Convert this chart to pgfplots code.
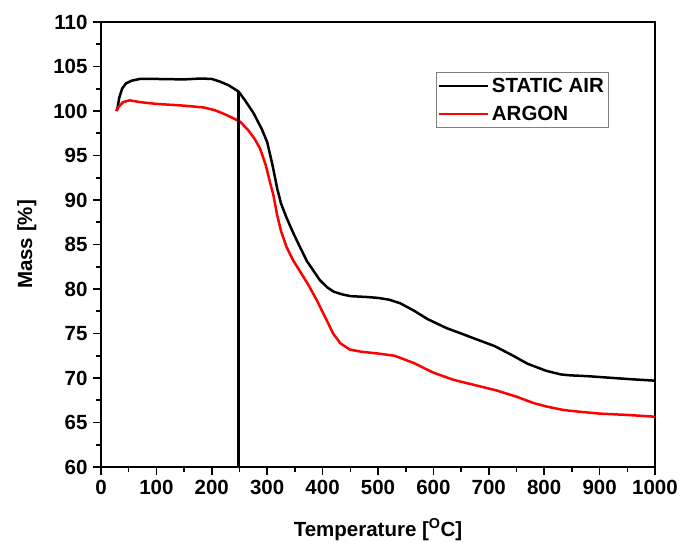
\documentclass[border=0pt]{standalone}
\usepackage{pgfplots}
\pgfplotsset{compat=1.18}
\usepackage{fontspec}
\setmainfont{Liberation Sans}
\begin{document}
\begin{tikzpicture}
\begin{axis}[
  scale only axis,
  width=554pt, height=445pt,
  xmin=0, xmax=1000, ymin=60, ymax=110,
  xtick={0,100,...,1000}, ytick={60,65,...,110},
  minor x tick num=1, minor y tick num=1,
  tick align=outside,
  xtick pos=bottom, ytick pos=left,
  major tick length=8pt, minor tick length=5pt,
  every tick/.style={line width=1.6pt, black},
  axis line style={line width=2.2pt},
  /pgf/number format/assume math mode=true,
  /pgf/number format/1000 sep={},
  ticklabel style={font=\bfseries\fontsize{20.5}{24}\selectfont},
  xticklabel style={yshift=-2pt},
  yticklabel style={xshift=-2pt},
  xlabel={\bfseries Temperature [\textsuperscript{O}C]},
  ylabel={\bfseries Mass [\%]},
  label style={font=\bfseries\fontsize{20.5}{24}\selectfont},
  xlabel style={yshift=-17pt},
  ylabel style={yshift=10pt},
  legend style={at={(0.605,0.888)}, anchor=north west, draw=gray, line width=0.6pt,
    font=\bfseries\fontsize{20.5}{24}\selectfont, row sep=8pt, inner xsep=1pt, inner ysep=4pt,
    nodes={inner xsep=3pt}},
  legend cell align=left,
  legend image code/.code={\draw[line width=2.5pt] (0cm,0cm) -- (1.72cm,0cm);},
]
\coordinate (bl) at (rel axis cs:0,0);
\addplot[black, line width=2.5pt] coordinates {
(28,100.0)(30,100.4)(33,101.5)(38,102.5)(45,103.1)(55,103.4)(70,103.6)(100,103.6)(150,103.55)(180,103.65)(200,103.6)(215,103.3)(230,102.9)(248,102.2)(260,101.2)(275,99.8)(290,98.0)(300,96.5)(310,93.8)(318,91.3)(325,89.6)(335,88.0)(347,86.3)(360,84.6)(372,83.1)(383,82.1)(395,81.0)(408,80.2)(420,79.7)(435,79.4)(450,79.2)(480,79.1)(500,79.0)(520,78.8)(540,78.4)(564,77.6)(590,76.6)(624,75.6)(650,75.0)(684,74.2)(710,73.6)(744,72.5)(770,71.6)(804,70.8)(830,70.4)(847,70.3)(880,70.2)(925,70.0)(960,69.85)(1000,69.7)
};
\addlegendentry{STATIC AIR}
\addplot[red, line width=2.5pt] coordinates {
(28,100.0)(32,100.5)(40,101.0)(52,101.2)(70,101.0)(100,100.8)(150,100.6)(185,100.4)(205,100.1)(221,99.7)(235,99.3)(251,98.8)(265,97.9)(277,96.9)(287,95.8)(297,94.0)(305,92.0)(311,90.6)(318,88.3)(325,86.5)(335,84.7)(347,83.2)(359,82.0)(374,80.5)(389,78.8)(405,76.8)(419,75.0)(432,73.9)(449,73.2)(470,72.95)(500,72.75)(530,72.5)(564,71.7)(600,70.6)(636,69.8)(675,69.2)(714,68.6)(750,67.9)(780,67.2)(804,66.8)(835,66.4)(865,66.2)(900,66.0)(950,65.85)(1000,65.65)
};
\addlegendentry{ARGON}
\addplot[black, line width=2.4pt, forget plot] coordinates {(248,102.2)(248,60)};
\end{axis}
\pgfresetboundingbox
\path (bl) ++(-101pt,-75pt) rectangle ++(680pt,542pt);
\end{tikzpicture}
\end{document}
